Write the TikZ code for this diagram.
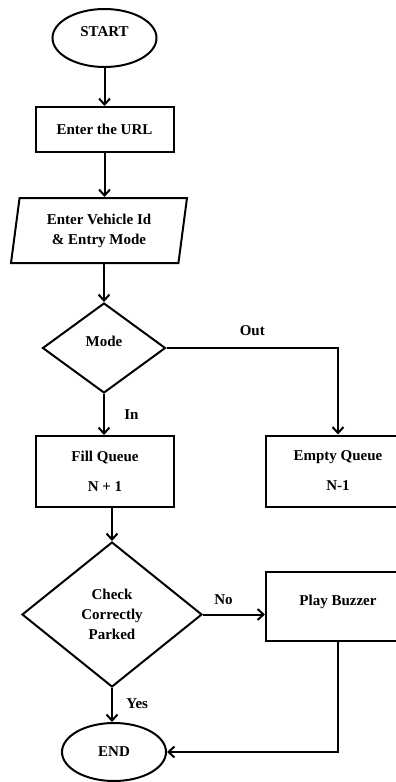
\documentclass[tikz,border=0pt]{standalone}
\usepackage{fontspec}
\setmainfont{Liberation Serif}
\usetikzlibrary{shapes.geometric, arrows.meta, positioning}
\tikzset{
    >={Straight Barb[length=6pt,width=11pt]}, % open arrow heads
    every node/.style={font=\bfseries\fontsize{15}{18}\selectfont}, % text of every node
    flow/.style={->, line width=2pt}, % the connectors
    terminal/.style={ellipse, draw, line width=2pt, minimum width=104pt, minimum height=58pt},
    process/.style={rectangle, draw, line width=2pt, align=center, minimum width=138pt, minimum height=45pt},
    inout/.style={trapezium, trapezium left angle=78, trapezium right angle=102, trapezium stretches body,
        draw, line width=2pt, align=center, minimum width=176pt, minimum height=65pt},
    decision/.style={diamond, draw, line width=2pt, align=center, inner sep=0pt},
}

\begin{document}
\begin{tikzpicture}[x=1pt, y=1pt]
    \useasboundingbox (0,0) rectangle (396,-782);
    % main column
    \node[terminal, text depth=13pt] (start) at (104.5,-38) {START};
    \node[process] (url) at (104.5,-129.5) {Enter the URL};
    \node[inout] (vehicle) at (99,-230.5) {Enter Vehicle Id\\[2pt]\& Entry Mode};
    \node[decision, minimum width=123pt, minimum height=90pt, text depth=13pt] (mode) at (104,-348) {Mode};
    \node[process, minimum height=71pt] (fill) at (105,-471.5) {Fill Queue\\[12pt]N + 1};
    \node[decision, minimum width=180pt, minimum height=145pt] (check) at (112,-614.5) {Check\\[2pt]Correctly\\[2pt]Parked};
    \node[terminal] (end) at (114,-752) {END};
    % right column
    \node[process, minimum width=144pt, minimum height=71pt] (empty) at (338,-471) {Empty Queue\\[12pt]N-1};
    \node[process, minimum width=144pt, minimum height=69pt, text depth=13pt] (buzzer) at (338,-606.5) {Play Buzzer};

    \draw[flow] (start) -- (url);
    \draw[flow] (url) -- (url |- vehicle.north);
    \draw[flow] (mode |- vehicle.south) -- (mode.north);
    \draw[flow] (mode.east) -| node[pos=0.25, above=8pt] {Out} (empty.north);
    \draw[flow] (mode.south) -- node[right, xshift=16pt] {In} (mode.south |- fill.north);
    \draw[flow] (check.north |- fill.south) -- (check.north);
    \draw[flow] (check.east) -- node[pos=0.33, above=6pt] {No} (check.east -| buzzer.west);
    \draw[flow] (check.south) -- node[right, xshift=10pt, pos=0.45] {Yes} (check.south |- end.north);
    \draw[flow] (buzzer.south) |- (end.east);
\end{tikzpicture}
\end{document}
